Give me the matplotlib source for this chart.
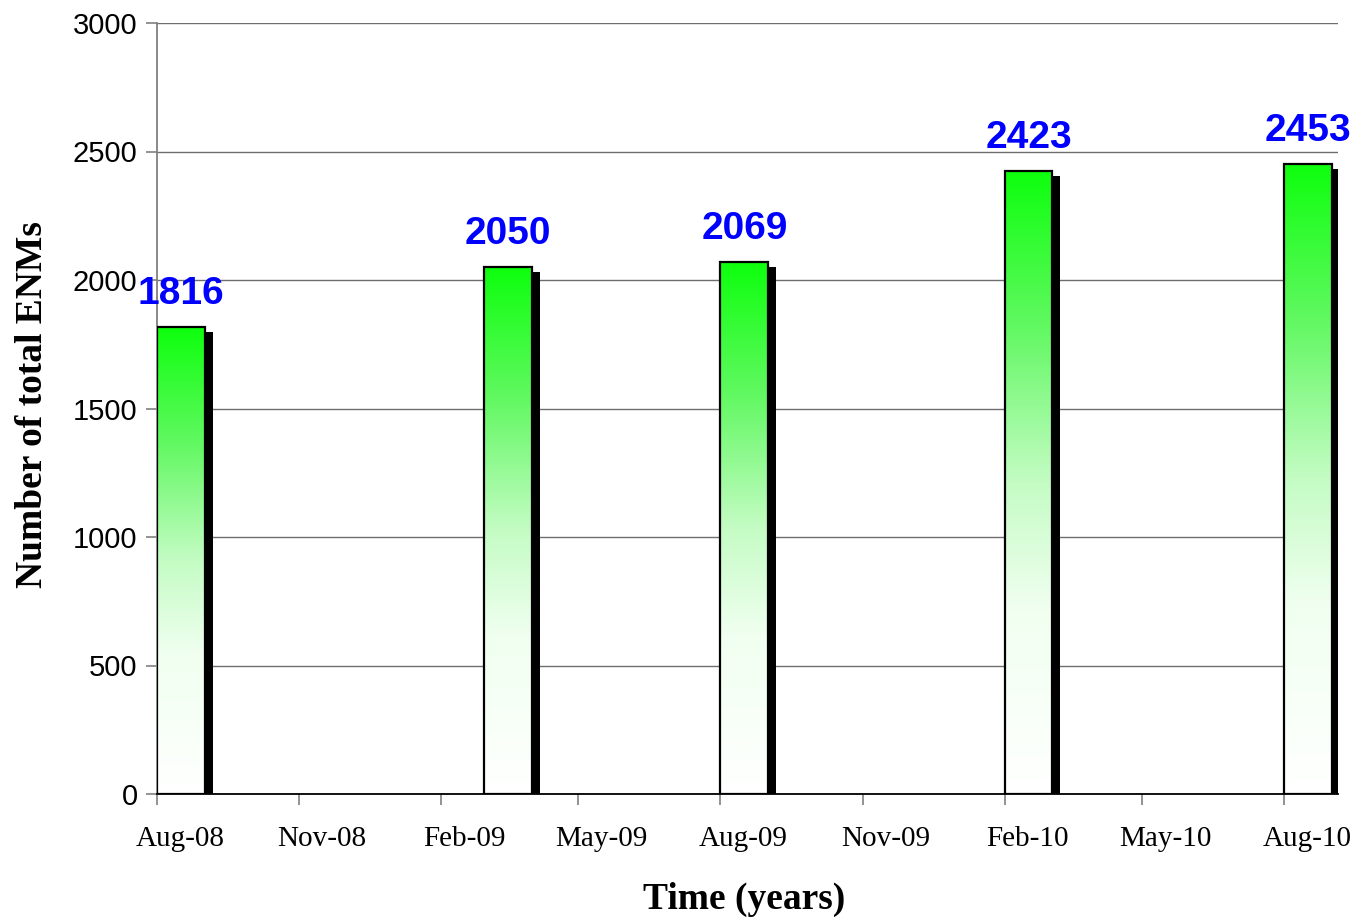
import datetime as dt
import numpy as np
import matplotlib
matplotlib.use("Agg")
import matplotlib.pyplot as plt
import matplotlib.dates as mdates
from matplotlib.colors import LinearSegmentedColormap
from matplotlib.patches import Rectangle

# Data
months = ["2008-08", "2009-03", "2009-08", "2010-02", "2010-08"]
totals = [1816, 2050, 2069, 2423, 2453]
tick_months = ["2008-08", "2008-11", "2009-02", "2009-05", "2009-08",
               "2009-11", "2010-02", "2010-05", "2010-08"]
tick_labels = ["Aug-08", "Nov-08", "Feb-09", "May-09", "Aug-09",
               "Nov-09", "Feb-10", "May-10", "Aug-10"]


def month_start(s):
    y, m = s.split("-")
    return dt.date(int(y), int(m), 1)


W, H = 1355, 918
fig = plt.figure(figsize=(W / 100, H / 100), dpi=100)
ax = fig.add_axes([157 / W, 1 - 794 / H, (1338 - 157) / W, (794 - 23) / H])

bar_days = 31
shadow_dx = 5.0   # days
shadow_dy = 20.0  # units

green_cmap = LinearSegmentedColormap.from_list(
    "g", [(0.0, "#ffffff"), (0.3, "#f0fff0"), (0.5, "#c4fcc4"),
          (0.75, "#62f862"), (1.0, "#0eff0e")])
grad = np.linspace(0, 1, 256).reshape(-1, 1)

starts = [mdates.date2num(month_start(m)) for m in months]
x0 = mdates.date2num(dt.date(2008, 8, 1))

for x, v in zip(starts, totals):
    # drop shadow
    ax.bar(x + shadow_dx, v - shadow_dy, width=bar_days, align="edge",
           color="black", edgecolor="none", zorder=2)
    # gradient body
    im = ax.imshow(grad, cmap=green_cmap, origin="lower", aspect="auto",
                   extent=(x, x + bar_days, 0, v), zorder=3, interpolation="bicubic")
    rect = Rectangle((x, 0), bar_days, v, facecolor="none", edgecolor="black",
                     linewidth=1.6, zorder=4)
    ax.add_patch(rect)
    im.set_clip_path(rect)
    ax.annotate(f"{v}", xy=(x + bar_days / 2, v), xytext=(0, 16.5),
                textcoords="offset points", ha="center", va="baseline",
                fontsize=28, fontweight="bold", color="#0000ff",
                family="Liberation Sans", zorder=5)

ax.set_xlim(x0, x0 + 765)
ax.set_ylim(0, 3000)

# Axes styling
ax.set_yticks(np.arange(0, 3001, 500))
ax.yaxis.grid(True, color="#6e6e6e", linewidth=1.0)
ax.set_axisbelow(True)
for sp in ["top", "right"]:
    ax.spines[sp].set_visible(False)
ax.spines["left"].set_color("#808080")
ax.spines["left"].set_linewidth(1.3)
ax.spines["bottom"].set_color("black")
ax.spines["bottom"].set_linewidth(1.3)
ax.tick_params(axis="y", length=8, width=1.2, color="#808080", pad=6,
               labelsize=21)
for lab in ax.get_yticklabels():
    lab.set_family("Liberation Sans")

major = [mdates.date2num(month_start(m)) for m in tick_months]
minor = [mdates.date2num(month_start(m)) + 15 for m in tick_months]
ax.set_xticks(major)
ax.set_xticklabels([""] * len(major))
ax.set_xticks(minor, minor=True)
ax.set_xticklabels(tick_labels, minor=True)
ax.tick_params(axis="x", which="major", length=8, width=1.2, color="#808080")
ax.tick_params(axis="x", which="minor", length=0, pad=23, labelsize=21)
for lab in ax.get_xticklabels(minor=True):
    lab.set_family("Liberation Serif")

fig.text(33 / W, 1 - 405 / H, "Number of total ENMs", rotation=90,
         ha="center", va="center", fontsize=27, fontweight="bold",
         family="Liberation Serif")
fig.text(744 / W, 1 - 899 / H, "Time (years)", ha="center", va="center",
         fontsize=27, fontweight="bold", family="Liberation Serif")

fig.savefig("out.png", dpi=100)
